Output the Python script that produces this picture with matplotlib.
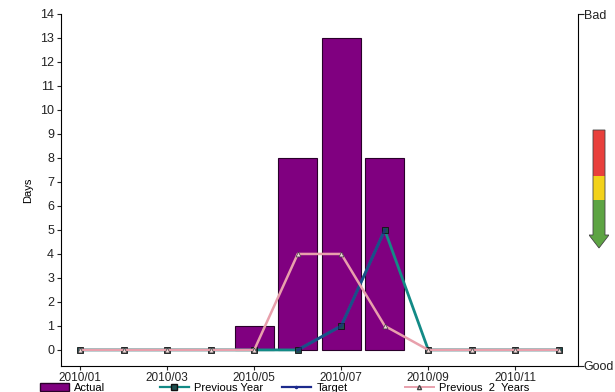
import matplotlib.pyplot as plt
import numpy as np
from matplotlib.patches import Rectangle, Polygon
from matplotlib.lines import Line2D

plt.rcParams['font.family'] = ['Liberation Sans', 'DejaVu Sans']

months = ['2010/01', '2010/02', '2010/03', '2010/04', '2010/05', '2010/06',
          '2010/07', '2010/08', '2010/09', '2010/10', '2010/11', '2010/12']
actual = [0, 0, 0, 0, 1, 8, 13, 8, 0, 0, 0, 0]
previous_year = [0, 0, 0, 0, 0, 0, 1, 5, 0, 0, 0, 0]
target = [np.nan, np.nan, np.nan, np.nan, np.nan, 0, 1, 5, np.nan, np.nan, np.nan, np.nan]
previous_2_years = [0, 0, 0, 0, 0, 4, 4, 1, 0, 0, 0, 0]

purple = '#800080'
teal = '#138a86'
navy = '#1c2a8c'
pink = '#e8a0ac'

fig = plt.figure(figsize=(6.15, 3.92), dpi=100)
ax = fig.add_axes([61 / 615, 26 / 392, 517 / 615, 352 / 392])

x = np.arange(len(months))
# empty months get no outline, otherwise a flat edge shows up on the zero line
edge_w = [0.8 if v > 0 else 0 for v in actual]
ax.bar(x, actual, width=0.9, color=purple, edgecolor='#2a002a', linewidth=edge_w, zorder=2)
ax.plot(x, previous_year, color=teal, lw=2.0, marker='s', ms=4,
        mfc='#1d4f4f', mec='#111111', mew=0.6, zorder=3)
ax.plot(x, target, color=navy, lw=2.0, alpha=0.6, zorder=4)
ax.plot(x, previous_2_years, color=pink, lw=1.8, marker='^', ms=3.5,
        mfc='#f4dada', mec='#444444', mew=0.5, zorder=5)

ax.set_xlim(-0.44, 11.44)
ax.set_ylim(-0.67, 14)
ax.set_yticks(range(0, 15))
ax.set_xticks(x[::2])
ax.set_xticklabels(months[::2])
ax.tick_params(axis='y', labelsize=9, length=3, width=0.8, colors='#222222', pad=2)
ax.tick_params(axis='x', labelsize=8.5, length=3, width=0.8, colors='#222222', pad=1)
ax.set_ylabel('Days', fontsize=8, labelpad=5, fontstretch='condensed')
for side in ['top', 'right']:
    ax.spines[side].set_visible(False)

# Bad / Good scale on the right
ax2 = ax.twinx()
ax2.set_ylim(0, 1)
ax2.set_yticks([0, 1])
ax2.set_yticklabels(['Good', 'Bad'])
ax2.tick_params(axis='y', labelsize=9, length=4, width=0.8, pad=0, colors='#222222')
for side in ['top', 'left', 'bottom']:
    ax2.spines[side].set_visible(False)

# traffic-light arrow
axa = fig.add_axes([589 / 615, 142 / 392, 20 / 615, 122 / 392])
axa.set_xlim(0, 20)
axa.set_ylim(122, 0)
axa.axis('off')
axa.add_patch(Rectangle((4, 2), 12, 46, facecolor='#e8403c', edgecolor='none'))
axa.add_patch(Rectangle((4, 48), 12, 24, facecolor='#f2d21a', edgecolor='none'))
axa.add_patch(Polygon([(4, 72), (16, 72), (16, 107), (20, 107), (10, 120), (0, 107), (4, 107)],
                      closed=True, facecolor='#5da443', edgecolor='none'))
axa.add_patch(Polygon([(4, 2), (16, 2), (16, 107), (20, 107), (10, 120), (0, 107), (4, 107)],
                      closed=True, facecolor='none', edgecolor='#444444', lw=0.6))

# legend along the bottom
entries = [
    (Rectangle((0, 0), 1, 1, facecolor=purple, edgecolor='#2a002a'), 'Actual', 40),
    (Line2D([], [], color=teal, lw=1.6, marker='s', ms=4, mfc='#1d4f4f', mec='#111111'), 'Previous Year', 160),
    (Line2D([], [], color=navy, lw=1.6, marker='.', ms=3), 'Target', 282),
    (Line2D([], [], color=pink, lw=1.4, marker='^', ms=3, mfc='#f4dada', mec='#444444'), 'Previous  2  Years', 405),
]
for handle, label, left in entries:
    fig.legend([handle], [label], loc='center left', bbox_to_anchor=(left / 615, 4 / 392),
               frameon=False, fontsize=8, handlelength=2.6, handletextpad=0.5, borderpad=0,
               borderaxespad=0)

fig.savefig('out.png', dpi=100)
